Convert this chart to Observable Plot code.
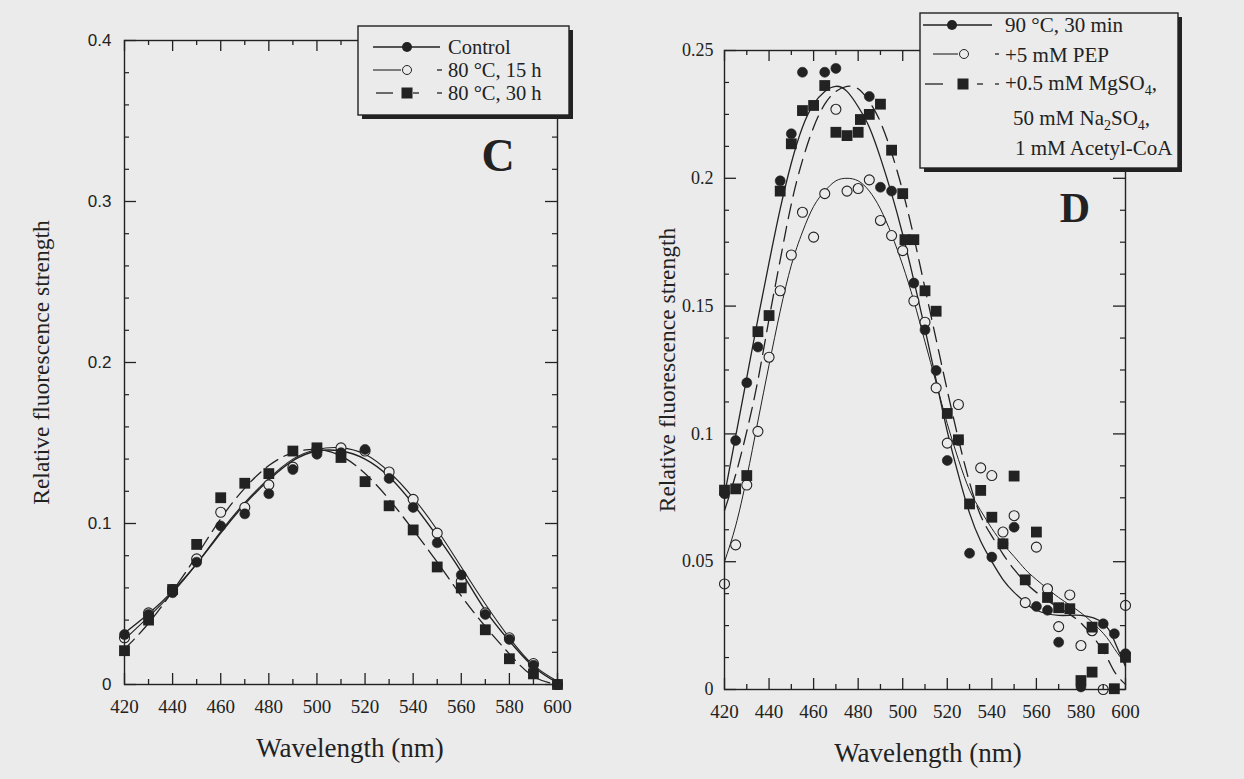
<!DOCTYPE html>
<html><head><meta charset="utf-8">
<script src="https://cdn.jsdelivr.net/npm/d3@7"></script>
<script src="https://cdn.jsdelivr.net/npm/@observablehq/plot@0.6"></script>
<style>
html,body{margin:0;padding:0;background:#ebebeb;}
#wrap{position:relative;width:1244px;height:779px;overflow:hidden;background:#ebebeb;font-family:"Liberation Serif","Times New Roman",serif;}
#wrap svg{position:absolute;top:0;}
</style></head><body><div id="wrap"></div>
<script>
// ---------- Panel C data ----------
const wlC = [420,430,440,450,460,470,480,490,500,510,520,530,540,550,560,570,580,590,600];
const cControl = [0.031,0.0435,0.057,0.076,0.0985,0.106,0.1185,0.1335,0.143,0.144,0.146,0.128,0.110,0.088,0.068,0.0435,0.028,0.012,0];
const c15h     = [0.029,0.0445,0.059,0.078,0.107,0.110,0.124,0.135,0.146,0.147,0.145,0.132,0.115,0.094,0.064,0.0445,0.029,0.013,0];
const c30h     = [0.021,0.040,0.059,0.087,0.116,0.125,0.131,0.145,0.147,0.141,0.126,0.111,0.096,0.073,0.060,0.034,0.016,0.0066,0];
// fitted curves
const fitCControl = [0.032,0.044,0.058,0.075,0.094,0.112,0.127,0.139,0.145,0.145,0.140,0.129,0.112,0.092,0.070,0.046,0.027,0.011,0.001];
const fitC15h     = [0.028,0.042,0.057,0.075,0.095,0.113,0.128,0.140,0.146,0.147,0.143,0.132,0.116,0.096,0.073,0.050,0.029,0.012,0.002];
const fitC30h     = [0.022,0.038,0.058,0.080,0.103,0.122,0.136,0.144,0.146,0.142,0.131,0.115,0.096,0.076,0.055,0.036,0.019,0.005,0.000];

// ---------- Panel D data ----------
const wlD30 = [420,425,430,435,445,450,455,465,470,485,490,495,505,510,515,520,525,530,540,545,550,560,565,570,580,590,595,600];
const vD30  = [0.0766,0.0974,0.120,0.134,0.199,0.2174,0.2415,0.2415,0.243,0.232,0.1965,0.195,0.159,0.1407,0.1248,0.0896,0.0974,0.0533,0.0518,0.057,0.0635,0.0325,0.031,0.0185,0.001,0.0257,0.0218,0.014];
const wlDPEP = [420,425,430,435,440,445,450,455,460,465,470,475,480,485,490,495,500,505,510,515,520,525,535,540,545,550,555,560,565,570,575,580,585,590,600];
const vDPEP  = [0.0413,0.0566,0.080,0.101,0.130,0.156,0.170,0.1867,0.177,0.194,0.227,0.195,0.196,0.1994,0.1835,0.1776,0.1717,0.152,0.1437,0.118,0.0964,0.1115,0.0867,0.0837,0.0616,0.068,0.034,0.0557,0.0394,0.0246,0.037,0.0172,0.023,0.0,0.0329];
const wlDMg = [420,425,430,435,440,445,450,455,460,465,470,475,480,481,485,490,495,500,501,505,510,515,520,525,530,535,540,545,550,555,560,565,570,575,580,585,585,590,595,600];
const vDMg  = [0.078,0.0785,0.0837,0.140,0.1463,0.195,0.2135,0.2265,0.2285,0.2363,0.218,0.2167,0.218,0.223,0.225,0.229,0.211,0.194,0.176,0.176,0.156,0.148,0.108,0.0977,0.0726,0.0779,0.0674,0.057,0.0835,0.0429,0.0616,0.036,0.032,0.0316,0.0035,0.0244,0.0068,0.016,0.0003,0.0126];
// fitted curves
const wlFitD = [420,425,430,435,440,445,450,455,460,465,470,475,480,485,490,495,500,505,510,515,520,525,530,535,540,545,550,555,560,570,580,590,595,600];
const fitD30  = [0.076,0.099,0.122,0.145,0.167,0.188,0.206,0.220,0.229,0.234,0.236,0.234,0.228,0.220,0.208,0.194,0.178,0.160,0.141,0.121,0.101,0.084,0.069,0.058,0.050,0.043,0.038,0.034,0.031,0.029,0.029,0.026,0.019,0.009];
const fitDPEP = [0.050,0.064,0.083,0.105,0.127,0.148,0.166,0.179,0.189,0.195,0.199,0.200,0.199,0.195,0.188,0.178,0.166,0.152,0.136,0.120,0.104,0.090,0.078,0.070,0.063,0.057,0.052,0.047,0.043,0.036,0.030,0.022,0.016,0.010];
const fitDMg  = [0.070,0.084,0.101,0.121,0.145,0.168,0.190,0.207,0.220,0.229,0.234,0.236,0.235,0.230,0.222,0.210,0.195,0.177,0.157,0.137,0.117,0.098,0.081,0.068,0.060,0.053,0.047,0.042,0.038,0.032,0.026,0.015,0.007,0.002];

// ---------- axes / labels ----------
const xMajor = [420,440,460,480,500,520,540,560,580,600];
const xMinor = [430,450,470,490,510,530,550,570,590];
const yMajorC = [0,0.1,0.2,0.3,0.4];
const yMinorC = [0.02,0.04,0.06,0.08,0.12,0.14,0.16,0.18,0.22,0.24,0.26,0.28,0.32,0.34,0.36,0.38];
const yMajorD = [0,0.05,0.1,0.15,0.2,0.25];
const yMinorD = [0.0125,0.025,0.0375,0.0625,0.075,0.0875,0.1125,0.125,0.1375,0.1625,0.175,0.1875,0.2125,0.225,0.2375];
const xTitle = "Wavelength (nm)";
const yTitle = "Relative fluorescence strength";
const legendC = ["Control", "80 °C, 15 h", "80 °C, 30 h"];
const legendD = ["90 °C, 30 min", "+5 mM PEP"];

const ink = "#222222", bg = "#ebebeb";
const font = "Liberation Serif, Times New Roman, serif";

function zipXY(xs, ys) { return xs.map((x, i) => ({x, y: ys[i]})); }

function panel(cfg) {
  const H = 779 - cfg.mT - cfg.mB, W = cfg.width - cfg.mL - cfg.mR;
  const marks = [];
  for (const f of cfg.fits) {
    marks.push(Plot.line(f.data, {x: "x", y: "y", curve: "natural", stroke: ink, strokeWidth: f.w || 1.3, strokeDasharray: f.dash || null}));
  }
  for (const s of cfg.series) {
    if (s.kind === "dot") marks.push(Plot.dot(s.data, {x: "x", y: "y", r: 5, fill: ink, stroke: ink, strokeWidth: 0.6}));
    if (s.kind === "open") marks.push(Plot.dot(s.data, {x: "x", y: "y", r: 5, fill: bg, stroke: ink, strokeWidth: 1.1}));
    if (s.kind === "square") marks.push(Plot.dot(s.data, {x: "x", y: "y", r: 6.1, symbol: "square", fill: ink}));
  }
  marks.push(
    Plot.ruleX(xMajor, {x: d => d, insetTop: H - 11, stroke: ink, strokeWidth: 1.3}),
    Plot.ruleX(xMajor, {x: d => d, insetBottom: H - 11, stroke: ink, strokeWidth: 1.3}),
    Plot.ruleX(xMinor, {x: d => d, insetTop: H - 5, stroke: ink, strokeWidth: 1.3}),
    Plot.ruleX(xMinor, {x: d => d, insetBottom: H - 5, stroke: ink, strokeWidth: 1.3}),
    Plot.ruleY(cfg.yMajor, {y: d => d, insetRight: W - 12, stroke: ink, strokeWidth: 1.3}),
    Plot.ruleY(cfg.yMajor, {y: d => d, insetLeft: W - 12, stroke: ink, strokeWidth: 1.3}),
    Plot.ruleY(cfg.yMinor, {y: d => d, insetRight: W - 5, stroke: ink, strokeWidth: 1.2}),
    Plot.ruleY(cfg.yMinor, {y: d => d, insetLeft: W - 5, stroke: ink, strokeWidth: 1.2}),
    Plot.frame({stroke: ink, strokeWidth: 1.4}),
    Plot.axisX({ticks: xMajor, tickSize: 0, tickPadding: 15, label: null, fontSize: 19, fontFamily: font}),
    Plot.axisY({ticks: cfg.yMajor, tickSize: 0, tickPadding: cfg.yPad, label: null, fontSize: cfg.yFontSize, fontFamily: cfg.yFont, tickFormat: d => String(d)}),
    Plot.text([xTitle], {frameAnchor: "bottom", dy: 72, dx: cfg.xTitleDx, fontSize: 27, fontFamily: font, fill: ink}),
    Plot.text([yTitle], {frameAnchor: "left", textAnchor: "middle", rotate: -90, dx: cfg.yTitleDx, fontSize: 23.5, fontFamily: font, fill: ink})
  );
  const svg = Plot.plot({
    width: cfg.width, height: 779,
    marginLeft: cfg.mL, marginRight: cfg.mR, marginTop: cfg.mT, marginBottom: cfg.mB,
    style: {background: "transparent", color: ink, fontFamily: font, fontSize: "19px", overflow: "visible"},
    x: {domain: [420, 600]},
    y: {domain: cfg.yDomain},
    marks
  });
  svg.style.left = cfg.left + "px";
  return svg;
}

const wrap = document.getElementById("wrap");

wrap.appendChild(panel({
  left: 0, width: 620, mL: 124, mR: 63, mT: 40, mB: 95,
  yDomain: [0, 0.4], yMajor: yMajorC, yMinor: yMinorC, yPad: 13, yFontSize: 17, yFont: "Liberation Sans, Arial, sans-serif",
  xTitleDx: 9, yTitleDx: -83,
  fits: [
    {data: zipXY(wlC, fitCControl), w: 1.4},
    {data: zipXY(wlC, fitC15h), w: 1.1},
    {data: zipXY(wlC, fitC30h), w: 1.3, dash: "14,7"}
  ],
  series: [
    {kind: "open", data: zipXY(wlC, c15h)},
    {kind: "square", data: zipXY(wlC, c30h)},
    {kind: "dot", data: zipXY(wlC, cControl)}
  ]
}));

wrap.appendChild(panel({
  left: 620, width: 624, mL: 104, mR: 119, mT: 50, mB: 90,
  yDomain: [0, 0.25], yMajor: yMajorD, yMinor: yMinorD, yPad: 11, yFontSize: 18, yFont: font,
  xTitleDx: 3, yTitleDx: -57,
  fits: [
    {data: zipXY(wlFitD, fitD30), w: 1.3},
    {data: zipXY(wlFitD, fitDPEP), w: 1.0},
    {data: zipXY(wlFitD, fitDMg), w: 1.3, dash: "15,8"}
  ],
  series: [
    {kind: "open", data: zipXY(wlDPEP, vDPEP)},
    {kind: "square", data: zipXY(wlDMg, vDMg)},
    {kind: "dot", data: zipXY(wlD30, vD30)}
  ]
}));

// ---------- legends and panel letters (overlay) ----------
const ov = d3.select(wrap).append("svg").attr("width", 1244).attr("height", 779).style("left", "0px");

function box(x, y, w, h) {
  ov.append("rect").attr("x", x + 4).attr("y", y + 4).attr("width", w).attr("height", h).attr("fill", ink);
  ov.append("rect").attr("x", x).attr("y", y).attr("width", w).attr("height", h).attr("fill", bg).attr("stroke", ink).attr("stroke-width", 1.4);
}
function seg(x1, x2, y, w) {
  ov.append("line").attr("x1", x1).attr("x2", x2).attr("y1", y).attr("y2", y).attr("stroke", ink).attr("stroke-width", w || 1.3);
}
function marker(kind, x, y) {
  if (kind === "dot") ov.append("circle").attr("cx", x).attr("cy", y).attr("r", 5).attr("fill", ink);
  if (kind === "open") ov.append("circle").attr("cx", x).attr("cy", y).attr("r", 4.5).attr("fill", "none").attr("stroke", ink).attr("stroke-width", 1);
  if (kind === "square") ov.append("rect").attr("x", x - 5.5).attr("y", y - 5.5).attr("width", 11).attr("height", 11).attr("fill", ink);
}
function label(parts, x, y, size) {
  const t = ov.append("text").attr("x", x).attr("y", y).attr("font-family", font).attr("font-size", size || 21).attr("fill", ink);
  let shifted = false;
  for (const p of parts) {
    const s = t.append("tspan").text(p.t);
    if (p.sub && !shifted) { s.attr("dy", 5).attr("font-size", 14); shifted = true; }
    else if (!p.sub && shifted) { s.attr("dy", -5); shifted = false; }
    else if (p.sub) s.attr("font-size", 14);
  }
}

// legend C
box(358, 26, 211, 89);
seg(373, 440, 47); marker("dot", 407, 47); label([{t: legendC[0]}], 448, 54, 20.5);
seg(373, 401, 70, 1.1); marker("open", 407, 70); seg(437, 442, 70); label([{t: legendC[1]}], 448, 77, 20.5);
seg(376, 393, 93); marker("square", 407, 93); seg(413, 419, 93); seg(437, 442, 93); label([{t: legendC[2]}], 448, 100, 20.5);

// legend D
box(920, 13, 258, 155);
seg(923, 992, 25); marker("dot", 952, 25); label([{t: legendD[0]}], 1005, 32);
seg(933, 958, 54, 1.1); marker("open", 964, 54); seg(995, 999, 54); label([{t: legendD[1]}], 1005, 62);
seg(925, 943, 84); marker("square", 963, 84); seg(977, 983, 84); seg(995, 999, 84);
label([{t: "+0.5 mM MgSO"}, {t: "4", sub: true}, {t: ","}], 1005, 90);
label([{t: "50 mM Na"}, {t: "2", sub: true}, {t: "SO"}, {t: "4", sub: true}, {t: ","}], 1013, 125);
label([{t: "1 mM Acetyl-CoA"}], 1015, 155);

// panel letters
ov.append("text").attr("x", 498).attr("y", 171).attr("text-anchor", "middle").attr("font-family", font).attr("font-weight", "bold").attr("font-size", 46).attr("fill", ink).text("C");
ov.append("text").attr("x", 1075).attr("y", 222).attr("text-anchor", "middle").attr("font-family", font).attr("font-weight", "bold").attr("font-size", 42).attr("fill", ink).text("D");
</script></body></html>
